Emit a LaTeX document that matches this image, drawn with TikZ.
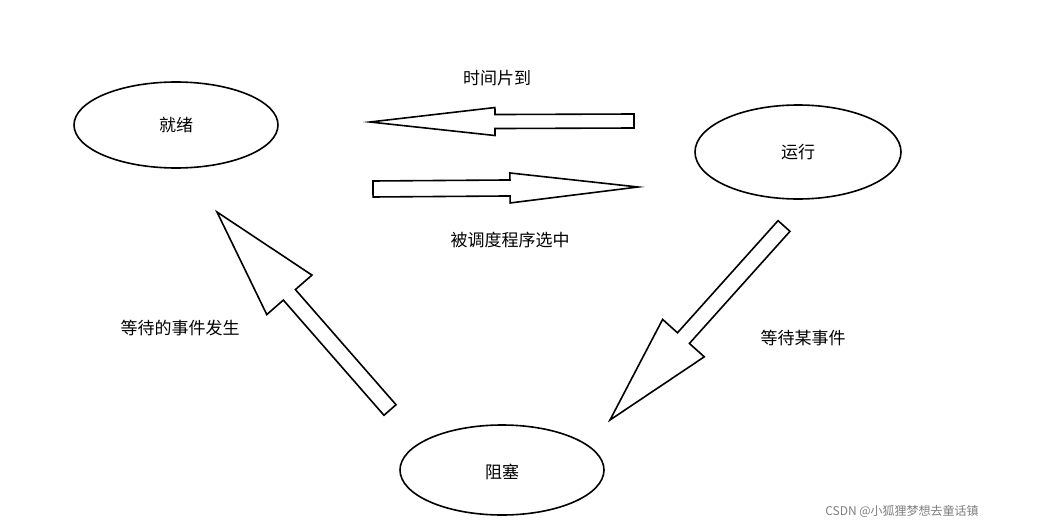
\documentclass[tikz,border=0pt]{standalone}
\usepackage{fontspec}
\setmainfont{Noto Sans CJK SC}
\usetikzlibrary{calc}
\newcommand\fatarr[5]{%
\coordinate (s) at (#1); \coordinate (t) at (#2);
\coordinate (h) at ($(t)!#5!(s)$);
\draw[line width=1.6pt,fill=white] ($(s)!#3!90:(t)$) -- ($(h)!#3!-90:(s)$) -- ($(h)!#4!-90:(s)$) -- (t) -- ($(h)!#4!90:(s)$) -- ($(h)!#3!90:(s)$) -- ($(s)!#3!-90:(t)$) -- cycle;}
\begin{document}
\begin{tikzpicture}[x=1pt,y=-1pt,
  st/.style={draw,line width=1.6pt,ellipse,inner sep=0pt,font=\fontsize{17}{20}\selectfont},
  lab/.style={font=\fontsize{17}{20}\selectfont}]
\useasboundingbox[fill=white] (0,0) rectangle (1042,530);
\draw[line width=1.6pt] (176,125) ellipse[x radius=102,y radius=43];
\node[lab] (a) at (176,125) {就绪};
\draw[line width=1.6pt] (798,152) ellipse[x radius=103,y radius=47];
\node[lab] (b) at (798,152) {运行};
\draw[line width=1.6pt] (502,470) ellipse[x radius=102,y radius=45];
\node[lab] (c) at (502,472) {阻塞};
\fatarr{634,121}{370,122}{7pt}{14pt}{125pt}
\fatarr{373,189}{638,187}{8pt}{15pt}{128pt}
\fatarr{390,410}{217,212}{8pt}{30pt}{110pt}
\fatarr{784,226}{610,420}{8pt}{28pt}{110pt}
\node[lab] (l1) at (497,78) {时间片到};
\node[lab] (l2) at (510,240) {被调度程序选中};
\node[lab] (l3) at (180,328) {等待的事件发生};
\node[lab] (l4) at (803,338) {等待某事件};
\node[font=\fontsize{12}{14}\selectfont,text=gray] (w) at (902,511) {CSDN @小狐狸梦想去童话镇};
\end{tikzpicture}
\end{document}
